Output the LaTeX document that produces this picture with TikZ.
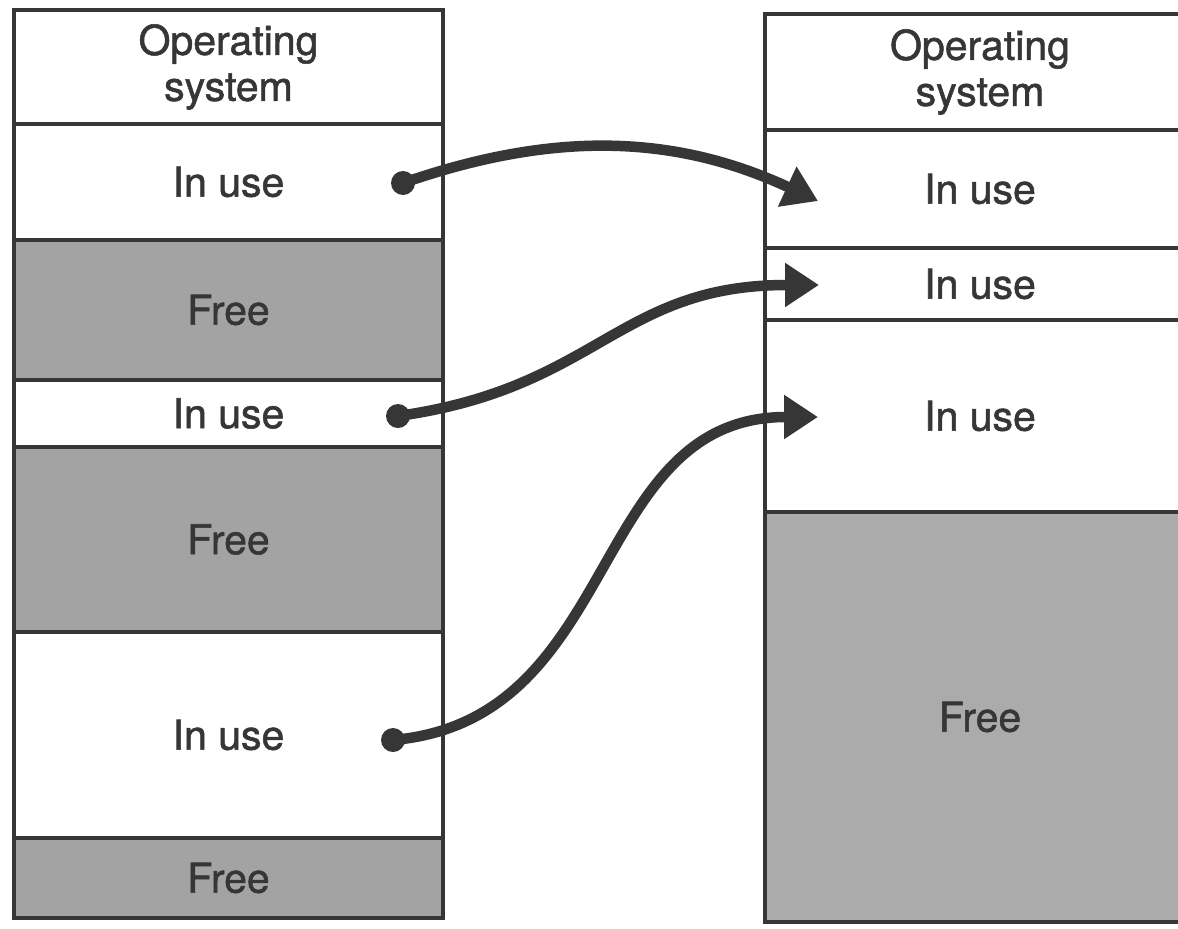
\documentclass[tikz,border=0pt]{standalone}
\usepackage{fontspec}
\setmainfont{TeX Gyre Heros}
\newfontfamily\blockfont{TeX Gyre Heros}[FakeBold=1.3]
\usetikzlibrary{arrows.meta}

\definecolor{ink}{HTML}{363636}
\definecolor{freefill}{HTML}{A3A3A3}
\definecolor{bigfree}{HTML}{ABABAB}

\tikzset{
  block/.style={draw=ink, line width=3.2pt, rectangle, inner sep=0pt,
    text=ink, align=center, font=\blockfont\fontsize{41}{46}\selectfont},
  lblock/.style={block, minimum width=429pt},
  rblock/.style={block, minimum width=430pt},
  inuse/.style={fill=white},
  freeblk/.style={fill=freefill},
  bigfreeblk/.style={fill=bigfree},
  pin/.style={circle, fill=ink, inner sep=0pt, minimum size=24pt},
  move/.style={draw=ink, line width=10.5pt,
    -{Triangle[length=34pt,width=42pt]}},
}

\begin{document}
\begin{tikzpicture}[x=1pt, y=-1pt]
\useasboundingbox (0,0) rectangle (1178,929);
\fill[white] (0,0) rectangle (1178,929);
\clip (0,0) rectangle (1178,929);

% memory before compaction
\node[lblock, inuse, minimum height=114pt] (los) at (228.5,67) {Operating\\system};
\node[lblock, inuse, minimum height=116pt] (lu1) at (228.5,182) {In use};
\node[lblock, freeblk, minimum height=140pt] (lf1) at (228.5,310) {Free};
\node[lblock, inuse, minimum height=67pt] (lu2) at (228.5,413.5) {In use};
\node[lblock, freeblk, minimum height=185pt] (lf2) at (228.5,539.5) {Free};
\node[lblock, inuse, minimum height=206pt] (lu3) at (228.5,735) {In use};
\node[lblock, freeblk, minimum height=80pt] (lf3) at (228.5,878) {Free};

% memory after compaction
\node[rblock, inuse, minimum height=116pt] (ros) at (980,72) {Operating\\system};
\node[rblock, inuse, minimum height=118pt] (ru1) at (980,189) {In use};
\node[rblock, inuse, minimum height=72pt] (ru2) at (980,284) {In use};
\node[rblock, inuse, minimum height=192pt] (ru3) at (980,416) {In use};
\node[rblock, bigfreeblk, minimum height=410pt] (rf) at (980,717) {Free};

% relocation arrows
\node[pin] (d1) at (403,183) {};
\node[pin] (d2) at (398,416) {};
\node[pin] (d3) at (393,740) {};
\coordinate (t1) at (818,201);
\coordinate (t2) at (819,285);
\coordinate (t3) at (818,417);

\draw[move] (d1.center) .. controls (553,131) and (674,134) .. (t1);
\draw[move] (d2.center) .. controls (598,388) and (618,285) .. (t2);
\draw[move] (d3.center) .. controls (623,720) and (587,417) .. (t3);
\end{tikzpicture}
\end{document}
